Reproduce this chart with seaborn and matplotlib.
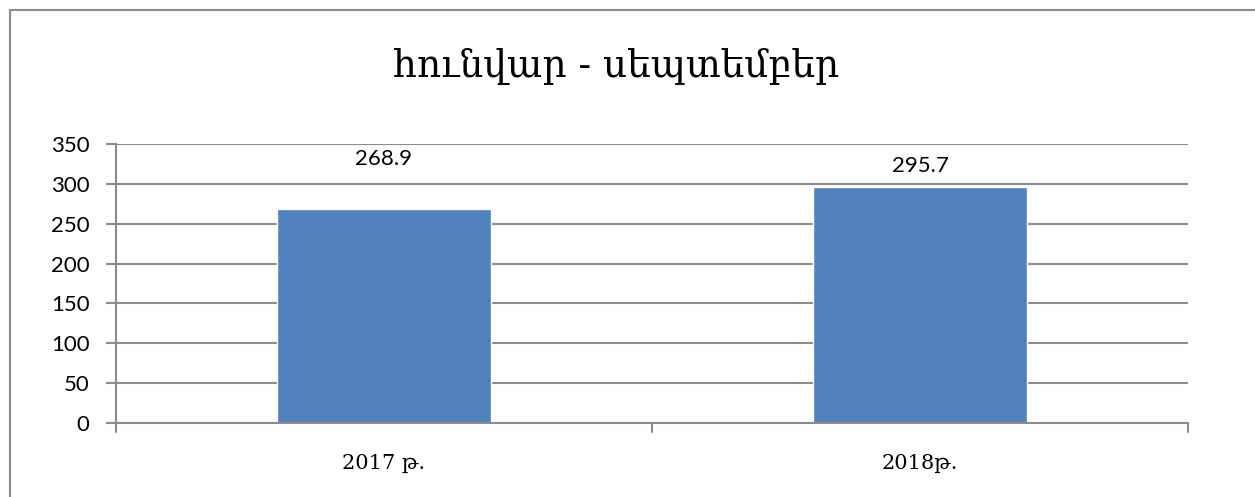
import matplotlib
matplotlib.use("Agg")
import matplotlib.pyplot as plt
import seaborn as sns
import pandas as pd
from matplotlib.lines import Line2D

categories = ["2017 թ.", "2018թ."]
values = [268.9, 295.7]
value_labels = ["268.9", "295.7"]
yticks = [0, 50, 100, 150, 200, 250, 300, 350]
title = "հունվար - սեպտեմբեր"

label_y = [331, 322]  # label positions as placed in the reference

sns.set_theme(style="white")
plt.rcParams["font.family"] = ["Lato", "DejaVu Sans"]
plt.rcParams["text.color"] = "black"
plt.rcParams["xtick.color"] = "black"
plt.rcParams["ytick.color"] = "black"

fig = plt.figure(figsize=(12.55, 4.97), dpi=100)
ax = fig.add_axes([116 / 1255, 1 - 423 / 497, (1188 - 116) / 1255, (423 - 144) / 497])

df = pd.DataFrame({"cat": categories, "val": values})
sns.barplot(data=df, x="cat", y="val", color="#4F81BD", saturation=1, width=0.4, ax=ax)

ax.set_xlim(-0.5, 1.5)
ax.set_ylim(0, 350)
ax.set_yticks(yticks)
ax.set_yticklabels([str(t) for t in yticks], fontsize=16)
ax.yaxis.grid(True, color="#8c8c8c", linewidth=1.5)
ax.set_axisbelow(True)
ax.set_xlabel("")
ax.set_ylabel("")

ax.set_xticks([0, 1])
ax.set_xticklabels(categories, fontsize=15, family=["DejaVu Serif", "DejaVu Sans"])
ax.tick_params(axis="x", length=0, pad=22, colors="black")
for xb in [-0.5, 0.5, 1.5]:
    ax.add_line(Line2D([xb, xb], [0, -0.032], transform=ax.get_xaxis_transform(),
                       color="#8c8c8c", linewidth=1.5, clip_on=False))
ax.tick_params(axis="y", length=7, width=1.5, color="#8c8c8c", labelcolor="black",
               left=True, pad=12)

for s in ["top", "right"]:
    ax.spines[s].set_visible(False)
for s in ["left", "bottom"]:
    ax.spines[s].set_color("#8c8c8c")
    ax.spines[s].set_linewidth(1.5)

for i, (lab, ly) in enumerate(zip(value_labels, label_y)):
    ax.text(i, ly, lab, ha="center", va="center", fontsize=16, color="black")

fig.text(616 / 1255, 1 - 66 / 497, title, ha="center", va="center", fontsize=27,
         family=["DejaVu Serif", "DejaVu Sans"], color="black")

# outer chart border (top and left edges visible)
fig.add_artist(Line2D([10 / 1255, 1], [1 - 10 / 497, 1 - 10 / 497], transform=fig.transFigure,
                      color="#8c8c8c", linewidth=1.5))
fig.add_artist(Line2D([10 / 1255, 10 / 1255], [0, 1 - 10 / 497], transform=fig.transFigure,
                      color="#8c8c8c", linewidth=1.5))

fig.savefig("out.png", dpi=100)
